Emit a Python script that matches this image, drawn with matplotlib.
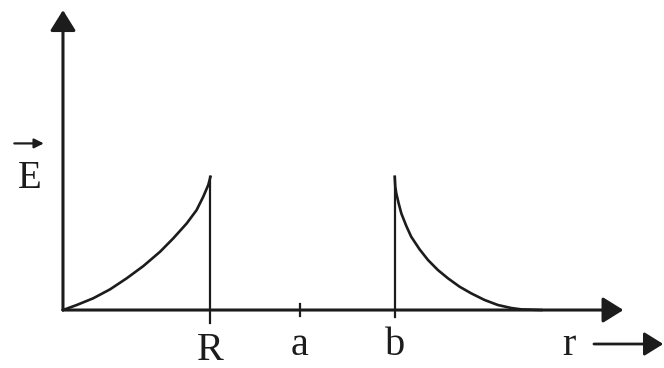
import matplotlib
import matplotlib.pyplot as plt
matplotlib.use('Agg')

# field inside the sphere (r from 0 to R)
r_in = [0.0, 0.093, 0.205, 0.319, 0.432, 0.545, 0.658, 0.748, 0.839,
        0.906, 0.951, 0.985, 1.0]
E_in = [0.0, 0.0375, 0.088, 0.155, 0.238, 0.33, 0.437, 0.538, 0.65,
        0.75, 0.85, 0.938, 1.0]

# field outside the shell (r from b onward)
r_out = [2.249, 2.253, 2.26, 2.276, 2.294, 2.328, 2.361, 2.418, 2.475,
         2.542, 2.61, 2.689, 2.768, 2.859, 2.949, 3.04, 3.107, 3.243]
E_out = [1.0, 0.925, 0.875, 0.8, 0.725, 0.63, 0.55, 0.455, 0.375,
         0.3, 0.238, 0.175, 0.125, 0.075, 0.0375, 0.015, 0.005, 0.0]

# marked radii on the r axis
radii = [1.0, 1.607, 2.249]
radius_labels = ["R", "a", "b"]

ink = "#1c1c1c"
serif = ["Liberation Serif", "DejaVu Serif"]

fig = plt.figure(figsize=(6.64, 3.68), dpi=100)
ax = fig.add_axes([0, 0, 1, 1])
ax.set_xlim(-0.427, 4.075)
ax.set_ylim(-0.435, 2.326)
ax.axis("off")

# axes with arrow heads
axis_arrow = dict(arrowstyle="-|>,head_length=0.45,head_width=0.28",
                  lw=2.2, color=ink, mutation_scale=28,
                  shrinkA=0, shrinkB=0)
ax.annotate("", xy=(3.8, 0), xytext=(0, 0), arrowprops=axis_arrow)
ax.annotate("", xy=(0, 2.25), xytext=(0, 0), arrowprops=axis_arrow)

# curves
ax.plot(r_in, E_in, color=ink, lw=1.9, solid_joinstyle="round")
ax.plot(r_out, E_out, color=ink, lw=1.9, solid_joinstyle="round")

# drops at R and at b, tick at a
ax.plot([radii[0], radii[0]], [-0.1, E_in[-1]], color=ink, lw=1.6)
ax.plot([radii[1], radii[1]], [-0.045, 0.045], color=ink, lw=1.6)
ax.plot([radii[2], radii[2]], [-0.05, E_out[0]], color=ink, lw=1.6)

# labels under the r axis
label_y = [-0.375, -0.338, -0.338]
for x, lab, y in zip(radii, radius_labels, label_y):
    ax.text(x, y, lab, ha="center", va="baseline", fontsize=29,
            family=serif, color=ink)

ax.text(3.43, -0.338, "r", ha="center", va="baseline", fontsize=29,
        family=serif, color=ink)
ax.annotate("", xy=(4.07, -0.255), xytext=(3.6, -0.255),
            arrowprops=dict(arrowstyle="-|>,head_length=0.45,head_width=0.28",
                            lw=2.0, color=ink, mutation_scale=26,
                            shrinkA=0, shrinkB=0))

# E with vector arrow
ax.text(-0.227, 0.915, "E", ha="center", va="baseline", fontsize=28,
        family=serif, color=ink)
ax.annotate("", xy=(-0.13, 1.25), xytext=(-0.33, 1.25),
            arrowprops=dict(arrowstyle="-|>", lw=1.6, color=ink,
                            mutation_scale=14, shrinkA=0, shrinkB=0))

plt.savefig("out.png", dpi=100)
